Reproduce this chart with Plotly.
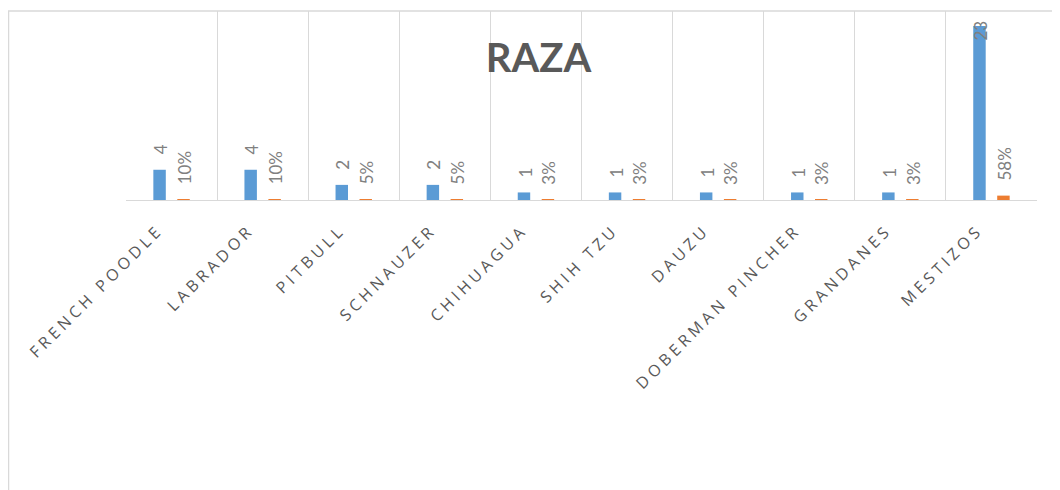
import plotly.graph_objects as go

categories = ["FRENCH POODLE", "LABRADOR", "PITBULL", "SCHNAUZER", "CHIHUAGUA",
              "SHIH TZU", "DAUZU", "DOBERMAN PINCHER", "GRANDANES", "MESTIZOS"]
counts = [4, 4, 2, 2, 1, 1, 1, 1, 1, 23]
percents = [10, 10, 5, 5, 3, 3, 3, 3, 3, 58]
title_text = "RAZA"

# the page body has an 8px margin, so the figure is sized to fit inside it
OFF = 8
W, H = 1060 - OFF, 490 - OFF
ML, MR, MT, MB = 126 - OFF, 23, 11 - OFF, 290
YMAX = 25
BARGAP, GROUPGAP = 0.474, 0.48

plot_w = W - ML - MR
plot_h = H - MT - MB
px_unit = plot_h / YMAX
cat_w = plot_w / len(categories)
slot = (1 - BARGAP) / 2
bar_shift = slot / 2 * cat_w


def spaced(s):
    return "\u2005".join(list(s))


xlabels = [spaced(c) for c in categories]
pct_vals = [p / 100 for p in percents]

BLUE = "#5b9bd5"
ORANGE = "#ed7d31"
LABEL_COLOR = "#808080"
GRID = "#d9d9d9"

fig = go.Figure()
fig.add_trace(go.Bar(x=xlabels, y=counts, marker=dict(color=BLUE, line=dict(width=0)),
                     name="Cantidad", hoverinfo="skip"))
fig.add_trace(go.Bar(x=xlabels, y=pct_vals, marker=dict(color=ORANGE, line=dict(width=0)),
                     name="Porcentaje", hoverinfo="skip"))

annotations = []
LBL_SIZE = 17
GAP = 14


def add_label(xcat, val, text, shift):
    est_len = len(text) * LBL_SIZE * 0.62
    font = dict(family="Lato", size=LBL_SIZE, color=LABEL_COLOR)
    if val * px_unit + GAP + est_len > plot_h:
        annotations.append(dict(x=xcat, y=val, xref="x", yref="y", text=text,
                                showarrow=False, textangle=-90, xanchor="center",
                                yanchor="top", yshift=7, xshift=shift, borderpad=0,
                                font=font))
    else:
        annotations.append(dict(x=xcat, y=val, xref="x", yref="y", text=text,
                                showarrow=False, textangle=-90, xanchor="center",
                                yanchor="bottom", yshift=GAP, xshift=shift, borderpad=0,
                                font=font))


for xc, c, p, pv in zip(xlabels, counts, percents, pct_vals):
    add_label(xc, c, str(c), -bar_shift + 1)
    add_label(xc, pv, f"{p}%", bar_shift + 1)

fig.update_layout(
    width=W, height=H,
    margin=dict(l=ML, r=MR, t=MT, b=MB, pad=0, autoexpand=False),
    paper_bgcolor="white", plot_bgcolor="white",
    barmode="group", bargap=BARGAP, bargroupgap=GROUPGAP,
    showlegend=False,
    title=dict(text=f"<b>{title_text}</b>", xref="container", yref="container",
               x=(538.5 - OFF) / W, y=1 - (58 - OFF) / H, xanchor="center", yanchor="middle",
               font=dict(family="Lato", size=40, color="#595959")),
    annotations=annotations,
    shapes=[dict(type="rect", xref="paper", yref="paper",
                 x0=(0.6 - ML) / plot_w, x1=(W + 15 - ML) / plot_w,
                 y0=-3, y1=1.0, line=dict(color=GRID, width=1.3),
                 fillcolor="rgba(0,0,0,0)", layer="below")],
    xaxis=dict(type="category", tickson="boundaries", showgrid=True, gridcolor=GRID,
               gridwidth=1.3, ticks="", showline=True, linecolor=GRID, linewidth=1.3,
               tickangle=-45, automargin=False, ticklabelshift=-16, ticklabelstandoff=16,
               tickfont=dict(family="Open Sans", size=16, color="#595959"),
               range=[-0.5, len(categories) - 0.5]),
    yaxis=dict(range=[0, YMAX], showgrid=False, zeroline=False, showticklabels=False,
               ticks="", showline=False, automargin=False),
)

fig.write_html("out.html")
